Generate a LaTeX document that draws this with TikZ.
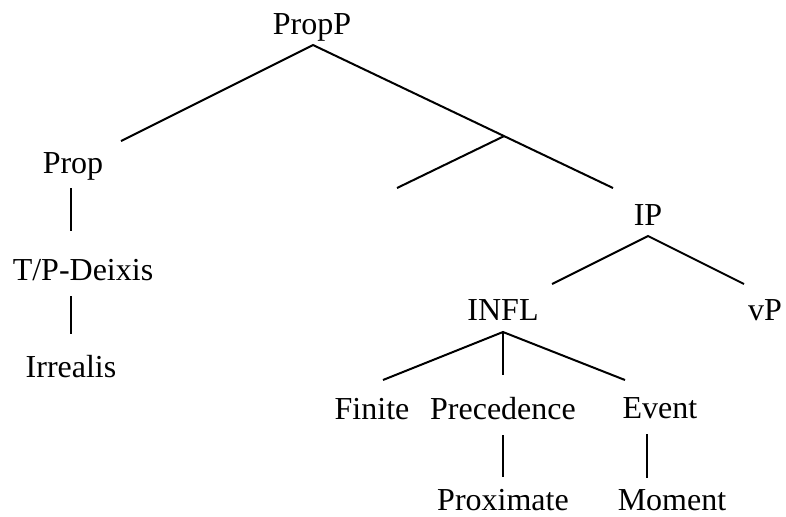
\documentclass[tikz,border=0pt]{standalone}
\usepackage{fontspec}
\setmainfont{Liberation Serif}
\usetikzlibrary{calc}

\tikzset{
	lbl/.style={anchor=base, inner sep=0pt, font=\fontsize{16}{19}\selectfont},
	branch/.style={line width=1pt}
}

\begin{document}
\begin{tikzpicture}[x=0.5pt,y=-0.5pt]

	\useasboundingbox (0,0) rectangle (786,516);

	% labels
	\node[lbl] (propP) at (312,34) {PropP};
	\node[lbl] (prop) at (73,173) {Prop};
	\node[lbl] (deixis) at (83,280) {T/P-Deixis};
	\node[lbl] (irrealis) at (71,377) {Irrealis};
	\node[lbl] (ip) at (648,225) {IP};
	\node[lbl] (infl) at (503,320) {INFL};
	\node[lbl] (vp) at (765,320) {vP};
	\node[lbl] (finite) at (372,419) {Finite};
	\node[lbl] (prec) at (503,419) {Precedence};
	\node[lbl] (event) at (660,418) {Event};
	\node[lbl] (proximate) at (503,510) {Proximate};
	\node[lbl] (moment) at (672,510) {Moment};

	% branch ends
	\coordinate (propP-b) at (313,45);
	\coordinate (prop-t) at (121,141);
	\coordinate (ip-t) at (613,188);
	\coordinate (bar) at ($(propP-b)!0.637!(ip-t)$);
	\coordinate (empty) at (397,188);
	\coordinate (ip-b) at (648,236);
	\coordinate (infl-t) at (552,284);
	\coordinate (vp-t) at (744,284);
	\coordinate (infl-b) at (503,332);
	\coordinate (finite-t) at (383,380);
	\coordinate (prec-t) at (503,375);
	\coordinate (event-t) at (625,380);

	\draw[branch] (prop-t) -- (propP-b) -- (ip-t);
	\draw[branch] (bar) -- (empty);
	\draw[branch] (infl-t) -- (ip-b) -- (vp-t);
	\draw[branch] (finite-t) -- (infl-b) -- (event-t);
	\draw[branch] (infl-b) -- (prec-t);

	% unary branches
	\draw[branch] (71,188) -- (71,231);
	\draw[branch] (71,296) -- (71,334);
	\draw[branch] (503,435) -- (503,477);
	\draw[branch] (647,434) -- (647,478);

\end{tikzpicture}
\end{document}
